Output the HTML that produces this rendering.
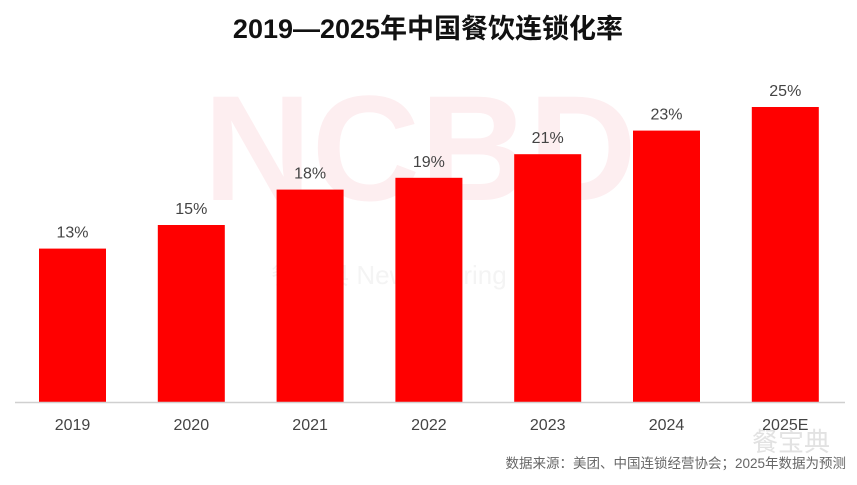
<!DOCTYPE html>
<html><head><meta charset="utf-8"><style>
body{margin:0;background:#fff;font-family:"Liberation Sans","Noto Sans CJK SC",sans-serif}
</style></head><body>
<svg width="857" height="480" xmlns="http://www.w3.org/2000/svg">
<text x="428" y="38" text-anchor="middle" font-size="27" font-weight="bold" fill="#111" font-family="Liberation Sans, Noto Sans CJK SC, sans-serif">2019—2025年中国餐饮连锁化率</text>
<text x="420" y="200" text-anchor="middle" font-size="150" font-weight="bold" fill="#fdeef0" font-family="Liberation Sans, sans-serif">NCBD</text>
<text x="420" y="284" text-anchor="middle" font-size="26" fill="#f4f4f4" font-family="Liberation Sans, Noto Sans CJK SC, sans-serif">餐宝典 NewCatering Data</text>
<g id="bars"></g>
<line x1="15" y1="402.5" x2="845" y2="402.5" stroke="#d0d0d0" stroke-width="1.5"/>
<text x="752" y="451" font-size="26" fill="#e2e2e2" font-family="Noto Sans CJK SC, sans-serif">餐宝典</text>
<text x="846" y="468" text-anchor="end" font-size="13.5" fill="#666" font-family="Liberation Sans, Noto Sans CJK SC, sans-serif">数据来源：美团、中国连锁经营协会；2025年数据为预测</text>
</svg>
<script>
const categories=["2019","2020","2021","2022","2023","2024","2025E"];
const values=[13,15,18,19,21,23,25];
const labels=["13%","15%","18%","19%","21%","23%","25%"];
const NS="http://www.w3.org/2000/svg";
const g=document.getElementById('bars');
function xc(i){return 72.5+i*118.8;}
function y(v){return 402-v*11.8;}
categories.forEach((c,i)=>{
  const r=document.createElementNS(NS,'rect');
  r.setAttribute('x',xc(i)-33.5);r.setAttribute('y',y(values[i]));
  r.setAttribute('width',67);r.setAttribute('height',402-y(values[i]));
  r.setAttribute('fill','#ff0000');
  
  
  g.appendChild(r);
  const t=document.createElementNS(NS,'text');
  t.setAttribute('x',xc(i));t.setAttribute('y',y(values[i])-11);
  t.setAttribute('text-anchor','middle');t.setAttribute('font-size','16');t.setAttribute('fill','#444');
  t.textContent=labels[i];
  
  
  g.appendChild(t);
  const a=document.createElementNS(NS,'text');
  a.setAttribute('x',xc(i));a.setAttribute('y',430);
  a.setAttribute('text-anchor','middle');a.setAttribute('font-size','16');a.setAttribute('fill','#444');
  a.textContent=c;
  
  
  g.appendChild(a);
});
</script>
</body></html>
